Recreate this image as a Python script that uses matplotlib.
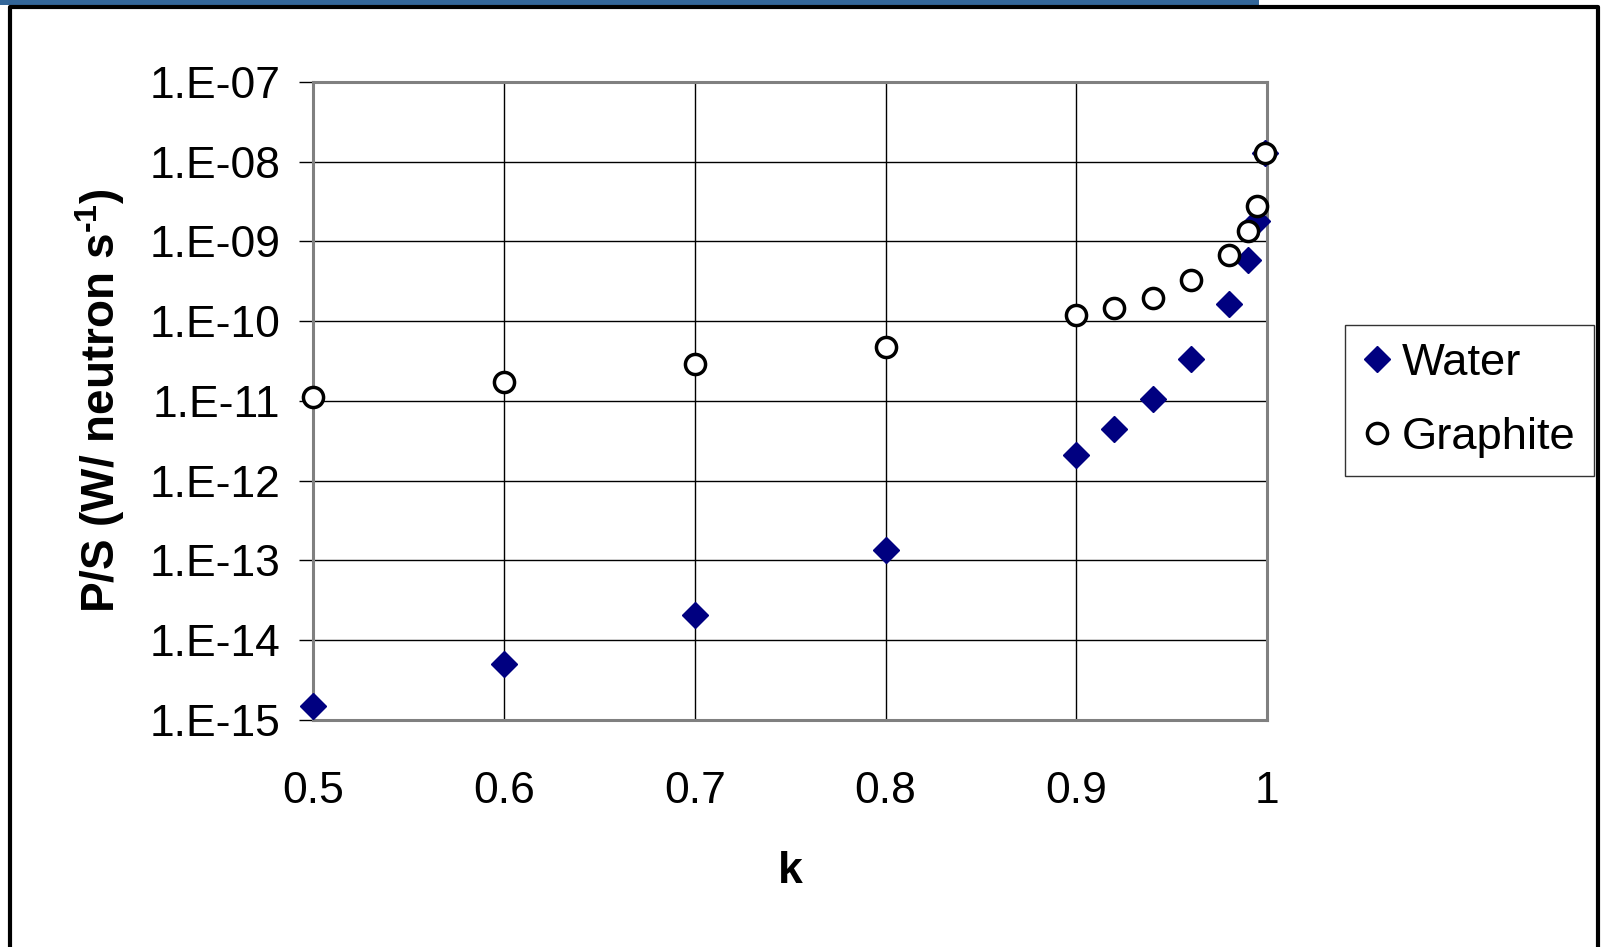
#!/usr/bin/env python3

import matplotlib
matplotlib.use("Agg")
import matplotlib.pyplot as plt
from matplotlib.lines import Line2D
from matplotlib.patches import Rectangle
from matplotlib.ticker import FixedLocator, NullLocator

plt.rcParams['font.family'] = ['Liberation Sans', 'DejaVu Sans']
# only the y label uses mathtext (for the superscript)
plt.rcParams['mathtext.fontset'] = 'custom'
plt.rcParams['mathtext.rm'] = 'Liberation Sans:bold'
plt.rcParams['mathtext.bf'] = 'Liberation Sans:bold'

# P/S versus k
k_water = [0.5, 0.6, 0.7, 0.8, 0.9, 0.92, 0.94, 0.96, 0.98, 0.99, 0.995, 0.999]
ps_water = [1.5e-15, 5.0e-15, 2.1e-14, 1.35e-13, 2.1e-12, 4.4e-12, 1.07e-11,
            3.3e-11, 1.65e-10, 5.8e-10, 1.8e-9, 1.28e-8]

k_graphite = [0.5, 0.6, 0.7, 0.8, 0.9, 0.92, 0.94, 0.96, 0.98, 0.99, 0.995, 0.999]
ps_graphite = [1.12e-11, 1.7e-11, 2.9e-11, 4.7e-11, 1.18e-10, 1.45e-10, 1.95e-10,
               3.3e-10, 6.7e-10, 1.35e-9, 2.75e-9, 1.28e-8]

y_ticks = [1e-15, 1e-14, 1e-13, 1e-12, 1e-11, 1e-10, 1e-9, 1e-8, 1e-7]
y_labels = ["1.E-15", "1.E-14", "1.E-13", "1.E-12", "1.E-11", "1.E-10",
            "1.E-09", "1.E-08", "1.E-07"]
x_ticks = [0.5, 0.6, 0.7, 0.8, 0.9, 1.0]
x_labels = ["0.5", "0.6", "0.7", "0.8", "0.9", "1"]

fig = plt.figure(figsize=(16.01, 9.47), dpi=100)

# slide frame + blue strip on top
fig.patches.append(Rectangle((0, 1 - 5 / 947), 1259 / 1601, 5 / 947, transform=fig.transFigure,
                             facecolor="#336699", edgecolor="none", zorder=0))
fig.add_artist(Line2D([10 / 1601, 10 / 1601, 1598 / 1601, 1598 / 1601],
                      [0, 1 - 7 / 947, 1 - 7 / 947, 0], transform=fig.transFigure,
                      color="black", lw=3))

ax = fig.add_axes([0.1958, 0.2397, 0.5956, 0.674])
ax.set_yscale("log")
ax.set_xlim(0.5, 1.0)
ax.set_ylim(1e-15, 1e-7)

ax.grid(True, color="black", lw=1)
ax.set_axisbelow(True)

ax.plot(k_water, ps_water, linestyle="none", marker="D", ms=13, color="#000080",
        label="Water", clip_on=False, zorder=3)
ax.plot(k_graphite, ps_graphite, linestyle="none", marker="o", ms=14.5,
        markerfacecolor="white", markeredgecolor="black", markeredgewidth=2.5,
        label="Graphite", clip_on=False, zorder=4)

ax.yaxis.set_major_locator(FixedLocator(y_ticks))
ax.yaxis.set_minor_locator(NullLocator())
ax.set_yticklabels(y_labels)
ax.set_xticks(x_ticks)
ax.set_xticklabels(x_labels)
ax.tick_params(axis="y", length=10, width=1, pad=14, labelsize=32)
ax.tick_params(axis="x", length=0, pad=37, labelsize=32)

for s in ax.spines.values():
    s.set_color("#808080")
    s.set_linewidth(2.2)

ax.set_xlabel("k", fontsize=32, fontweight="bold", labelpad=28)
ax.set_ylabel("P/S (W/ neutron s$^{\\text{-1}}$)", fontsize=33, fontweight="bold", labelpad=16)

leg = ax.legend(loc="upper left", bbox_to_anchor=(0.840, 0.657), bbox_transform=fig.transFigure,
                borderaxespad=0, fontsize=32.7, frameon=True, fancybox=False, edgecolor="black",
                handletextpad=0.25, handlelength=0.6, borderpad=0.4, labelspacing=0.72)
leg.get_frame().set_linewidth(1)

fig.savefig("out.png", dpi=100)
